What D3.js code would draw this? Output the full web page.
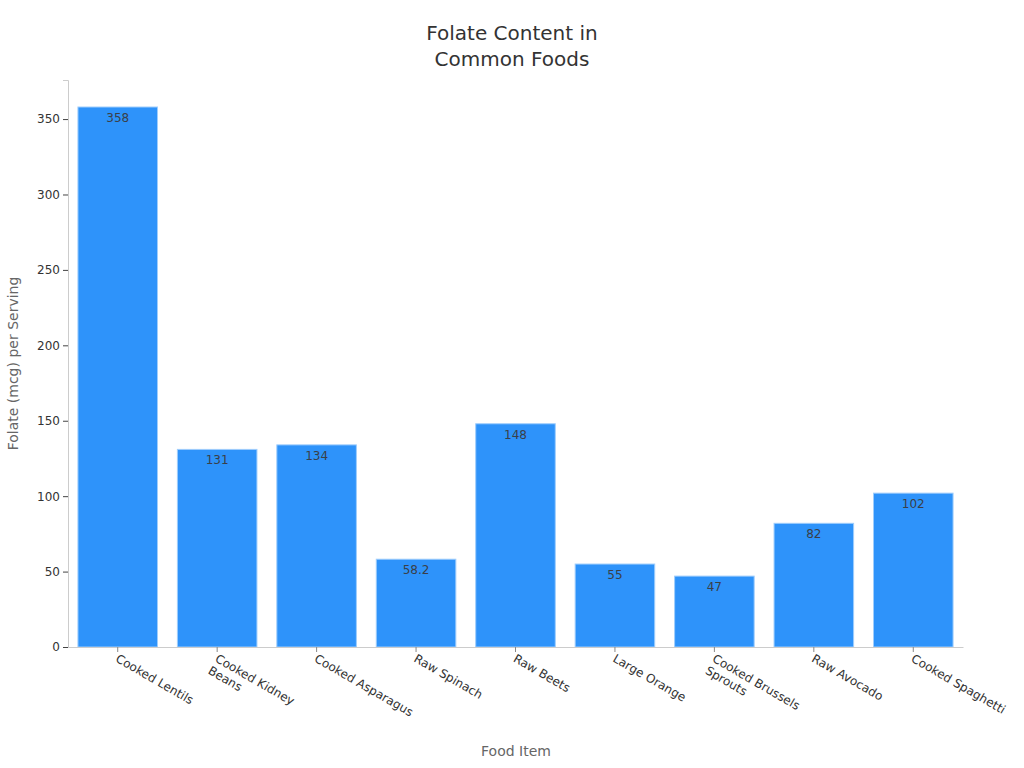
<!DOCTYPE html>
<html><head><meta charset="utf-8">
<script src="https://cdn.jsdelivr.net/npm/d3@7"></script>
<style>body{margin:0;background:#fff;} svg{display:block;font-family:"DejaVu Sans",sans-serif;}</style>
</head><body>
<svg id="c" width="1024" height="768"></svg>
<script>
const categories = ["Cooked Lentils","Cooked Kidney Beans","Cooked Asparagus","Raw Spinach","Raw Beets","Large Orange","Cooked Brussels Sprouts","Raw Avocado","Cooked Spaghetti"];
const values = [358,131,134,58.2,148,55,47,82,102];
const valueLabels = ["358","131","134","58.2","148","55","47","82","102"];
const yTicks = [0,50,100,150,200,250,300,350];
const titleLines = ["Folate Content in","Common Foods"];

const svg = d3.select("#c");
const m = {l:68, r:963, t:80, b:647};
const x = d3.scaleBand().domain(categories).range([m.l, m.r]).paddingInner(0.2).paddingOuter(0.1);
const y = d3.scaleLinear().domain([0, d3.max(values)*1.05]).range([m.b, m.t]);

// title
svg.append("text").attr("x",512).attr("y",40).attr("text-anchor","middle")
  .attr("font-size",20).attr("fill","#333")
  .selectAll("tspan").data(titleLines).join("tspan")
  .attr("x",512).attr("dy",(d,i)=>i?26:0).text(d=>d);

// bars
svg.append("g").selectAll("rect").data(values).join("rect")
  .attr("x",(d,i)=>x(categories[i])).attr("width",x.bandwidth())
  .attr("y",d=>y(d)).attr("height",d=>y(0)-y(d))
  .attr("fill","#2E93FA").attr("stroke","#9fcdfc").attr("stroke-width",1);

// labels
svg.append("g").selectAll("text").data(values).join("text")
  .attr("x",(d,i)=>x(categories[i])+x.bandwidth()/2).attr("y",d=>y(d)+15)
  .attr("text-anchor","middle").attr("font-size",12).attr("fill","#3a3f48")
  .text((d,i)=>valueLabels[i]);

// y axis
const ya = svg.append("g").attr("transform",`translate(${m.l},0)`)
  .call(d3.axisLeft(y).tickValues(yTicks).tickSize(5).tickPadding(3));
ya.select(".domain").attr("stroke","#ccc");
ya.selectAll(".tick line").attr("stroke","#444");
ya.selectAll(".tick text").attr("font-size",12).attr("fill","#333").attr("font-family","DejaVu Sans");

// x axis
const xa = svg.append("g").attr("transform",`translate(0,${m.b})`)
  .call(d3.axisBottom(x).tickSize(5).tickSizeOuter(0));
xa.select(".domain").attr("stroke","#ccc");
xa.selectAll(".tick line").attr("stroke","#888");
xa.selectAll(".tick text").remove();
xa.selectAll(".tick").each(function(d){
  const words = d.split(" ");
  let lines = [];
  if (words.length > 2) { lines = [words.slice(0,2).join(" "), words.slice(2).join(" ")]; }
  else lines = [d];
  const t = d3.select(this).append("text")
    .attr("transform","translate(-3,14) rotate(30)")
    .attr("text-anchor","start").attr("font-size",12).attr("fill","#333")
    .attr("font-family","DejaVu Sans");
  t.selectAll("tspan").data(lines).join("tspan")
    .attr("x",0).attr("dy",(l,i)=>i?14:0).text(l=>l);
});

// axis titles
svg.append("text").attr("x",516).attr("y",756).attr("text-anchor","middle")
  .attr("font-size",14).attr("fill","#666").text("Food Item");
svg.append("text").attr("transform",`translate(18,${(m.t+m.b)/2}) rotate(-90)`)
  .attr("text-anchor","middle").attr("font-size",14).attr("fill","#666").text("Folate (mcg) per Serving");
</script>
</body></html>
